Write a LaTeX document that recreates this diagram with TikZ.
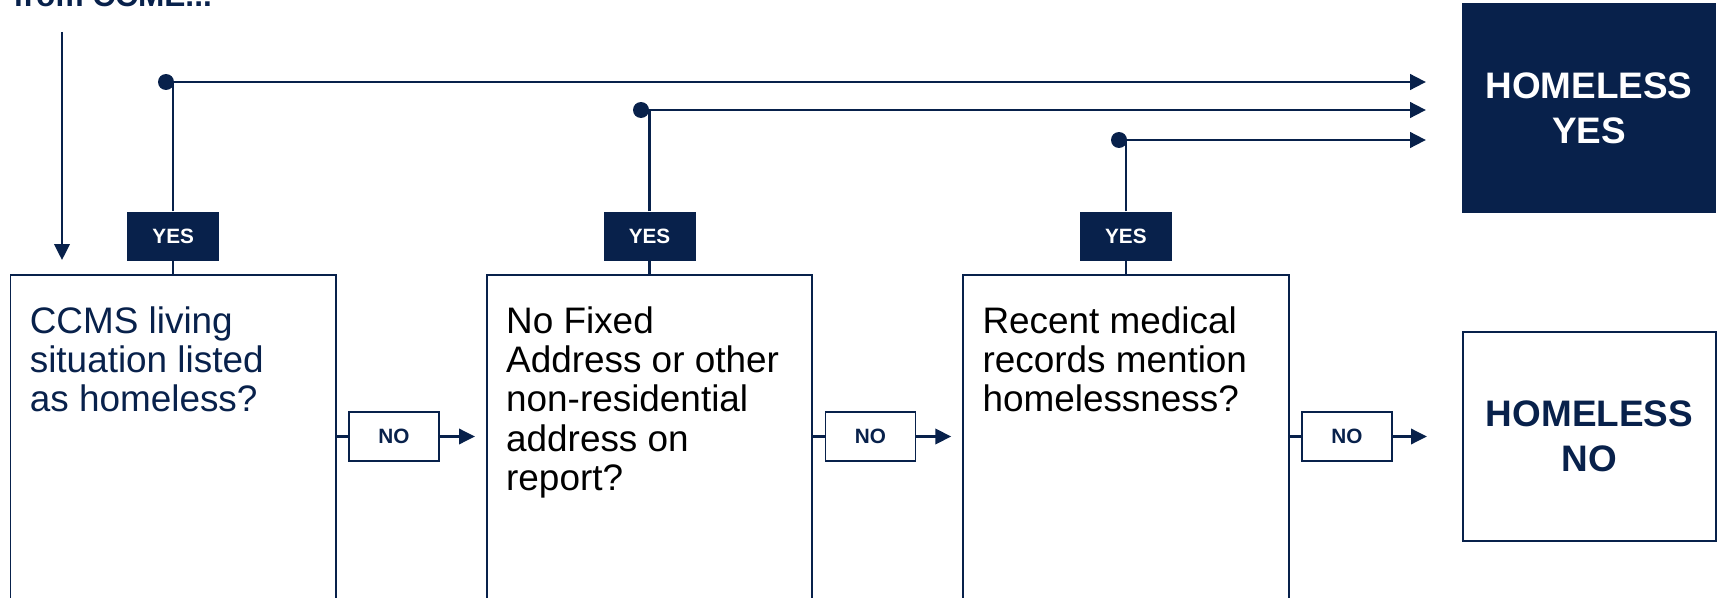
\documentclass[tikz,border=0pt]{standalone}
\usepackage{fontspec}
\setmainfont{Liberation Sans}
\usepackage{xcolor}
\usepackage{tikz}
\usetikzlibrary{arrows.meta,positioning,calc}
\definecolor{navy}{HTML}{08214B}

\begin{document}
\begin{tikzpicture}[x=0.02cm,y=-0.02cm,
  qbox/.style={draw=navy,line width=1.1pt,minimum width=6.51cm,minimum height=7.6cm,
               inner sep=0pt},
  qtext/.style={align=left,inner sep=0pt,font=\fontsize{21}{22.4}\selectfont},
  yesbox/.style={fill=navy,text=white,minimum width=1.84cm,minimum height=0.98cm,
                 inner sep=0pt,font=\bfseries\fontsize{11.8}{14}\selectfont},
  nobox/.style={draw=navy,line width=1.1pt,fill=white,text=navy,minimum width=1.8cm,
                minimum height=0.98cm,inner sep=0pt,font=\bfseries\fontsize{11.8}{14}\selectfont},
  endbox/.style={minimum width=5.07cm,minimum height=4.19cm,align=center,inner sep=0pt,
                 font=\bfseries\fontsize{21}{25.5}\selectfont},
  dot/.style={circle,fill=navy,minimum size=0.32cm,inner sep=0pt},
  link/.style={draw=navy,line width=1.2pt},
  arr/.style={-{Triangle[length=9pt,width=8.8pt]},draw=navy,line width=1.2pt}
]
\useasboundingbox (0,0) rectangle (1725,598);
\clip (0,0) rectangle (1725,598);

% entry
\node[anchor=base west,inner sep=0pt,text=navy,font=\bfseries\fontsize{18}{20}\selectfont]
  (src) at (13,7) {from CCME...};
\coordinate (entry) at (62,32);

% question boxes
\node[qbox,anchor=north west] (q1) at (9.5,274) {};
\node[qbox,right=2.98cm of q1] (q2) {};
\node[qbox,right=2.98cm of q2] (q3) {};
\node[qtext,text=navy,anchor=north west] (t1) at ([shift={(20,32)}]q1.north west)
  {CCMS living\\situation listed\\as homeless?};
\node[qtext,anchor=north west] (t2) at ([shift={(20,32)}]q2.north west)
  {No Fixed\\Address or other\\non-residential\\address on\\report?};
\node[qtext,anchor=north west] (t3) at ([shift={(20,32)}]q3.north west)
  {Recent medical\\records mention\\homelessness?};

% outcomes
\node[endbox,fill=navy,text=white] (hy) at (1589,108) {HOMELESS\\YES};
\node[endbox,draw=navy,line width=1.1pt,text=navy] (hn) at (1589.5,436.5) {HOMELESS\\NO};

% yes branches
\node[yesbox,above=0.26cm of q1] (y1) {YES};
\node[yesbox,above=0.26cm of q2] (y2) {YES};
\node[yesbox,above=0.26cm of q3] (y3) {YES};
\node[dot] (d1) at (166,82) {};
\node[dot] (d2) at (641,110) {};
\node[dot] (d3) at (1119,140) {};
\foreach \i in {1,2,3}{
  \draw[link] (y\i.south) -- (y\i.south |- q\i.north);
  \draw[link] (y\i.north) -- (y\i.north |- d\i);
  \draw[arr,line width=1.5pt,shorten >=0.72cm] (d\i.center) -- (d\i -| hy.west);
}

% no branches
\node[nobox] (n1) at (394,436.5) {NO};
\node[nobox] (n2) at (870.5,436.5) {NO};
\node[nobox] (n3) at (1347,436.5) {NO};
\draw[link] (q1.east |- n1) -- (n1.west);
\draw[link] (q2.east |- n2) -- (n2.west);
\draw[link] (q3.east |- n3) -- (n3.west);
\draw[arr,shorten >=0.22cm] (n1.east) -- (n1 -| q2.west);
\draw[arr,shorten >=0.22cm] (n2.east) -- (n2 -| q3.west);
\draw[arr,shorten >=0.70cm] (n3.east) -- (n3 -| hn.west);

\draw[arr,shorten >=0.28cm] (entry) -- (entry |- q1.north);
\end{tikzpicture}
\end{document}
